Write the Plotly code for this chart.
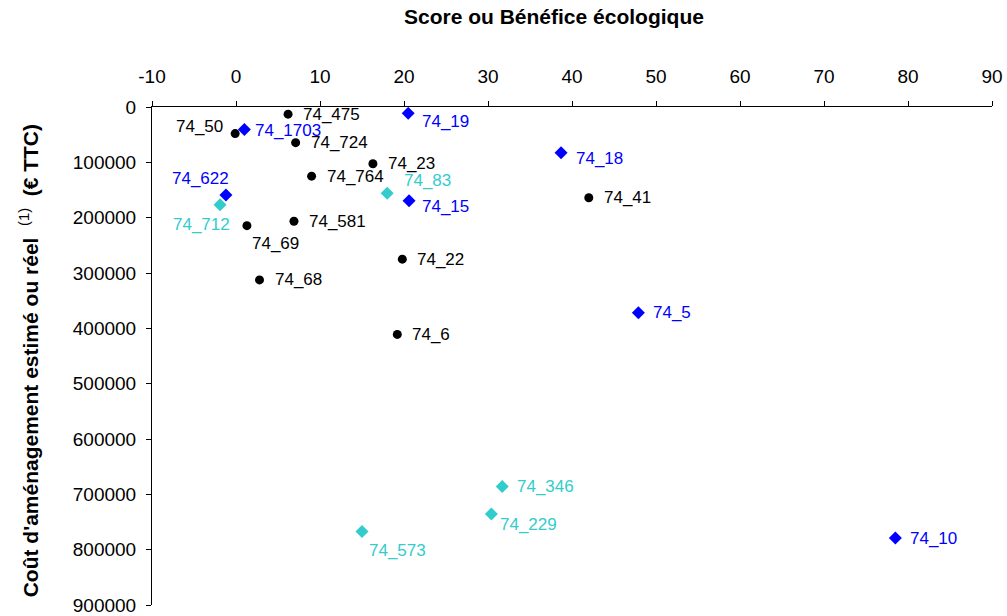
import plotly.graph_objects as go

# Sites: ecological score (x) vs. estimated or actual works cost (y, € TTC)
black_names = ["74_475", "74_50", "74_724", "74_23", "74_764", "74_581", "74_69",
               "74_68", "74_22", "74_6", "74_41"]
black_score = [6.2, -0.1, 7.1, 16.3, 9.0, 6.9, 1.3, 2.8, 19.8, 19.2, 42.0]
black_cost = [13000, 48000, 64500, 102500, 125000, 206500, 214500, 312500, 275000, 411000, 164000]

blue_names = ["74_1703", "74_19", "74_622", "74_15", "74_18", "74_5", "74_10"]
blue_score = [1.0, 20.5, -1.2, 20.6, 38.7, 47.9, 78.5]
blue_cost = [40500, 11500, 159000, 169500, 82500, 372000, 779000]

cyan_names = ["74_712", "74_83", "74_346", "74_229", "74_573"]
cyan_score = [-1.9, 18.0, 31.7, 30.4, 15.0]
cyan_cost = [176500, 156000, 686000, 735500, 767000]

x_ticks = [-10, 0, 10, 20, 30, 40, 50, 60, 70, 80, 90]
x_tick_labels = ["-10", "0", "10", "20", "30", "40", "50", "60", "70", "80", "90"]
y_ticks = [0, 100000, 200000, 300000, 400000, 500000, 600000, 700000, 800000, 900000]
y_tick_labels = ["0", "100000", "200000", "300000", "400000", "500000",
                 "600000", "700000", "800000", "900000"]

BLACK = "#000000"
BLUE = "#0000FF"
CYAN = "#33CCCC"
FONT = "Liberation Sans, Arial, sans-serif"

# Label placement (anchor, x shift px, y shift px); default is to the right of the mark
label_place = {
    "74_50": ("right", -10, 7),
    "74_1703": ("left", 9, -1),
    "74_19": ("left", 12, -8),
    "74_83": ("left", 15, 13),
    "74_622": ("center", -25, 16),
    "74_15": ("left", 11, -6),
    "74_712": ("center", -19, -20),
    "74_69": ("left", 3, -18),
    "74_18": ("left", 13, -6),
    "74_229": ("left", 7, -11),
    "74_573": ("left", 5, -19),
}

fig = go.Figure()
annotations = []

series = [
    (black_names, black_score, black_cost, BLACK, "circle", 9),
    (blue_names, blue_score, blue_cost, BLUE, "diamond", 10),
    (cyan_names, cyan_score, cyan_cost, CYAN, "diamond", 10),
]

for names, xs, ys, color, symbol, size in series:
    fig.add_trace(go.Scatter(
        x=xs, y=ys, mode="markers", text=names, showlegend=False,
        marker=dict(color=color, symbol=symbol, size=size, line=dict(width=0)),
        hovertemplate="%{text}<br>%{x}<br>%{y}<extra></extra>",
    ))
    for n, xv, yv in zip(names, xs, ys):
        anchor, dx, dy = label_place.get(n, ("left", 13, 0))
        annotations.append(dict(
            x=xv, y=yv, xref="x", yref="y", text=n, showarrow=False,
            xanchor=anchor, yanchor="middle", xshift=dx, yshift=dy,
            font=dict(family=FONT, size=17, color=color),
        ))

# Axis titles, placed relative to the plot area
annotations.append(dict(
    x=0.479, y=1.181, xref="paper", yref="paper",
    text="<b>Score ou Bénéfice écologique</b>", showarrow=False,
    xanchor="center", yanchor="middle",
    font=dict(family=FONT, size=21, color=BLACK),
))
annotations.append(dict(
    x=-0.146, y=0.49, xref="paper", yref="paper",
    text="<b>Coût d'aménagement estimé ou réel\u00a0\u00a0</b><sup>(1)</sup><b>\u00a0\u00a0(€ TTC)</b>",
    showarrow=False, textangle=-90,
    xanchor="center", yanchor="middle",
    font=dict(family=FONT, size=21, color=BLACK),
))

fig.update_layout(
    width=1007, height=616,
    margin=dict(l=152, r=15, t=107, b=11),
    paper_bgcolor="white", plot_bgcolor="white",
    font=dict(family=FONT, color=BLACK),
    annotations=annotations,
    xaxis=dict(
        side="top", range=[-10, 90], tickvals=x_ticks, ticktext=x_tick_labels,
        automargin=False,
        showgrid=False, zeroline=False,
        showline=True, linecolor=BLACK, linewidth=1,
        ticks="outside", ticklen=5, tickcolor=BLACK,
        tickfont=dict(family=FONT, size=19, color=BLACK),
        ticklabelstandoff=10,
    ),
    yaxis=dict(
        range=[900000, 0], tickvals=y_ticks, ticktext=y_tick_labels,
        automargin=False,
        showgrid=False, zeroline=False,
        showline=True, linecolor=BLACK, linewidth=1,
        ticks="outside", ticklen=5, tickcolor=BLACK,
        tickfont=dict(family=FONT, size=19, color=BLACK),
        ticklabelstandoff=6,
    ),
)

fig.write_html("out.html")
